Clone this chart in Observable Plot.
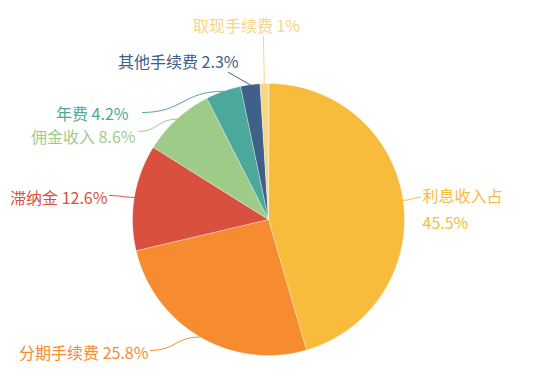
<!DOCTYPE html>
<html><head><meta charset="utf-8">
<script src="https://cdn.jsdelivr.net/npm/d3@7"></script>
<script src="https://cdn.jsdelivr.net/npm/@observablehq/plot@0.6"></script>
<style>body{margin:0;background:#fff;}</style>
</head><body><div id="chart"></div>
<script>
// ---- data ----
const categories = ["利息收入占", "分期手续费", "滞纳金", "佣金收入", "年费", "其他手续费", "取现手续费"];
const values = [45.5, 25.8, 12.6, 8.6, 4.2, 2.3, 1];
const valueLabels = ["45.5%", "25.8%", "12.6%", "8.6%", "4.2%", "2.3%", "1%"];
const colors = ["#F8BC3D", "#F68B2F", "#D9503F", "#9FCB89", "#4BA89A", "#3F6088", "#F9D682"];

// ---- layout (pixels) ----
const W = 550, H = 379, CX = 268, CY = 219, R = 136;
const labelLayout = [
  {tx: 422, ty: 206, anchor: "start", lx: 420, ly: 197, sep: "\n", curve: "bump-x"},
  {tx: 148, ty: 350, anchor: "end", lx: 150, ly: 350, sep: " ", curve: "bump-x"},
  {tx: 107, ty: 195, anchor: "end", lx: 109, ly: 195, sep: " ", curve: "bump-x"},
  {tx: 135, ty: 134, anchor: "end", lx: 138, ly: 131, sep: " ", curve: "bump-x"},
  {tx: 128, ty: 111, anchor: "end", lx: 142, ly: 112, sep: " ", curve: "bump-x"},
  {tx: 238, ty: 59, anchor: "end", lx: 228, ly: 72, sep: " ", curve: "linear"},
  {tx: 246, ty: 23, anchor: "middle", lx: 263, ly: 36, sep: " ", curve: "bump-y"}
];

const arcs = d3.pie().sort(null)(values);
const slicePts = [];
arcs.forEach((a, i) => {
  slicePts.push({cat: categories[i], x: CX, y: CY});
  const n = Math.max(4, Math.ceil((a.endAngle - a.startAngle) / 0.005));
  for (let k = 0; k <= n; k++) {
    const t = a.startAngle + (a.endAngle - a.startAngle) * k / n;
    slicePts.push({cat: categories[i], x: CX + R * Math.sin(t), y: CY - R * Math.cos(t)});
  }
});

const labels = arcs.map((a, i) => {
  const L = labelLayout[i];
  const m = (a.startAngle + a.endAngle) / 2;
  return {cat: categories[i], text: categories[i] + L.sep + valueLabels[i], x: L.tx, y: L.ty,
          anchor: L.anchor, ex: CX + R * Math.sin(m), ey: CY - R * Math.cos(m), lx: L.lx, ly: L.ly, curve: L.curve};
});
const leaders = [];
labels.forEach(l => { leaders.push({cat: l.cat, curve: l.curve, x: l.ex, y: l.ey}); leaders.push({cat: l.cat, curve: l.curve, x: l.lx, y: l.ly}); });

const marks = [
  Plot.line(slicePts, {x: "x", y: "y", z: "cat", fill: "cat", stroke: "#fff", strokeWidth: 0.4, curve: "linear-closed"})
];
for (const c of ["bump-x", "bump-y", "linear"]) {
  marks.push(Plot.line(leaders.filter(d => d.curve === c), {x: "x", y: "y", z: "cat", stroke: "cat", strokeWidth: 1, curve: c}));
}
for (const anc of ["start", "end", "middle"]) {
  marks.push(Plot.text(labels.filter(d => d.anchor === anc), {x: "x", y: "y", text: "text", fill: "cat", textAnchor: anc, lineHeight: 1.7, fontSize: 16}));
}

const chart = Plot.plot({
  width: W, height: H, margin: 0,
  style: {fontFamily: "'Noto Sans CJK SC', 'Noto Sans', sans-serif", background: "#fff"},
  x: {domain: [0, W], range: [0, W], axis: null},
  y: {domain: [0, H], range: [0, H], axis: null},
  color: {domain: categories, range: colors},
  marks
});
document.getElementById("chart").appendChild(chart);
</script>
</body></html>
